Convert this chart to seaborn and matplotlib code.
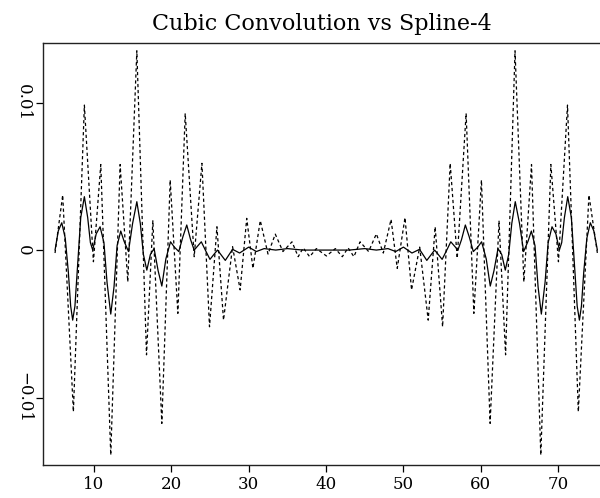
import matplotlib
matplotlib.use("Agg")
import matplotlib.pyplot as plt
import seaborn as sns
import pandas as pd

# ---- data ----
cubic_x = [4.98, 5.97, 7.35, 8.77, 9.94, 10.89, 12.18, 13.39, 14.38, 15.55,
           16.80, 17.62, 18.78, 19.86, 20.85, 21.80, 22.96, 23.96, 24.94, 25.90,
           26.75, 27.92, 28.90, 29.75, 30.55, 31.50, 32.50, 33.44, 34.43, 35.60,
           36.40, 37.05, 37.88, 38.75, 40.05, 41.20, 42.10, 42.85, 43.60, 44.40,
           45.50, 46.50, 47.40, 48.40, 49.20, 50.20, 51.05, 52.10, 53.20, 54.10,
           55.06, 56.04, 56.95, 58.10, 59.10, 60.08, 61.20, 62.35, 63.20, 64.42,
           65.56, 66.55, 67.75, 69.05, 70.03, 71.20, 72.60, 73.97, 75.06]
cubic_y = [-0.0002, 0.00373, -0.01096, 0.00983, -0.00079, 0.0058, -0.0139, 0.0058, -0.00215, 0.01351,
           -0.0071, 0.00199, -0.01175, 0.00475, -0.00429, 0.00927, -0.00045, 0.00588, -0.0052, 0.00158,
           -0.00475, 0.00023, -0.0027, 0.00215, -0.00124, 0.0020, -0.00027, 0.00108, -0.0001, 0.00056,
           -0.00045, 0.00015, -0.00045, 0.0001, -0.0004, 0.0001, -0.00045, 0.00015, -0.00045, 0.00056,
           -0.0001, 0.0011, -0.0002, 0.00208, -0.00124, 0.0022, -0.0027, 0.0002, -0.00475, 0.00158,
           -0.0052, 0.00588, -0.00056, 0.00927, -0.00429, 0.00475, -0.01175, 0.00199, -0.0071, 0.01351,
           -0.00215, 0.0058, -0.0139, 0.0058, -0.00079, 0.00983, -0.01096, 0.00373, -0.0002]

spline_x = [4.98, 5.40, 5.85, 6.30, 6.70, 7.00, 7.26, 7.55, 7.90, 8.30,
            8.77, 9.20, 9.55, 9.85, 10.30, 10.80, 11.30, 11.70, 12.18, 12.60,
            13.00, 13.47, 13.90, 14.47, 15.00, 15.55, 16.00, 16.40, 16.84, 17.30,
            17.78, 18.30, 18.78, 19.30, 19.90, 20.40, 20.97, 21.50, 22.00, 22.50,
            22.96, 23.88, 24.40, 25.00, 25.50, 25.97, 26.98, 27.92, 28.83, 30.00,
            31.00, 32.00, 33.50, 35.00, 37.00, 40.00, 43.00, 45.00, 46.50, 48.00,
            49.00, 50.00, 51.10, 52.08, 53.02, 54.03, 54.50, 55.00, 55.60, 56.12,
            57.04, 57.50, 58.00, 58.50, 59.03, 59.60, 60.10, 60.70, 61.22, 61.70,
            62.22, 62.70, 63.16, 63.60, 64.00, 64.45, 65.00, 65.53, 66.10, 66.53,
            67.00, 67.40, 67.82, 68.30, 68.70, 69.20, 69.70, 70.15, 70.45, 70.80,
            71.23, 71.70, 72.10, 72.45, 72.74, 73.00, 73.30, 73.70, 74.15, 74.60,
            75.06]
spline_y = [0.0, 0.0013, 0.00185, 0.0008, -0.0015, -0.0038, -0.00475, -0.0038, -0.001, 0.0022,
            0.00362, 0.0022, 0.0005, 0.0, 0.0011, 0.00158, 0.0005, -0.0022, -0.00434, -0.0025,
            0.0003, 0.00129, 0.0006, -0.0001, 0.0018, 0.00328, 0.0018, -0.0003, -0.00136, -0.0003,
            0.0001, -0.0014, -0.00244, -0.0006, 0.00056, 0.0002, -0.0001, 0.0009, 0.0017, 0.0007,
            0.0, 0.00056, 0.0, -0.00063, -0.0003, 0.0, -0.0007, 0.00005, -0.0002, 0.0002,
            -0.0001, 0.0001, 0.0, 0.0001, 0.0, 0.0, 0.0, 0.0001, 0.0, 0.0001,
            -0.0001, 0.0002, -0.0002, 0.00005, -0.0007, 0.0, -0.0003, -0.00063, 0.0, 0.00056,
            0.0, 0.0007, 0.0017, 0.0009, -0.0001, 0.0002, 0.00056, -0.0006, -0.00244, -0.0014,
            0.0001, -0.0003, -0.00136, -0.0003, 0.0018, 0.00328, 0.0018, -0.0001, 0.0006, 0.00129,
            0.0003, -0.0025, -0.00434, -0.0022, 0.0005, 0.00158, 0.0011, 0.0, 0.0005, 0.0022,
            0.00362, 0.0022, -0.001, -0.0038, -0.00475, -0.0038, -0.0015, 0.0008, 0.00185, 0.0013,
            0.0]

x_ticks = [10, 20, 30, 40, 50, 60, 70]
y_ticks = [-0.01, 0.0, 0.01]
y_tick_labels = ["\u22120.01", "0", "0.01"]
title = "Cubic Convolution vs Spline-4"

cubic = pd.DataFrame({"x": cubic_x, "y": cubic_y})
spline = pd.DataFrame({"x": spline_x, "y": spline_y})

sns.set_theme(style="white")
plt.rcParams["font.family"] = ["DejaVu Serif"]
plt.rcParams["text.color"] = "black"
plt.rcParams["xtick.color"] = "black"
plt.rcParams["ytick.color"] = "black"

fig = plt.figure(figsize=(6.0, 4.98), dpi=100)
ax = fig.add_axes([0.072, 0.066, 0.928, 0.848])

sns.lineplot(data=cubic, x="x", y="y", ax=ax, sort=False, estimator=None,
             color="black", linewidth=0.9, linestyle=(0, (2.6, 2.2)))
sns.lineplot(data=spline, x="x", y="y", ax=ax, sort=False, estimator=None,
             color="black", linewidth=0.9)

ax.set_xlim(3.45, 75.4)
ax.set_ylim(-0.01458, 0.01405)
ax.set_xticks(x_ticks)
ax.set_xticklabels([str(t) for t in x_ticks], fontsize=12)
ax.set_yticks(y_ticks)
ax.set_yticklabels(y_tick_labels, fontsize=12, rotation=-90, va="center")
ax.set_xlabel("")
ax.set_ylabel("")
ax.tick_params(axis="both", direction="out", length=5, width=0.9, color="black",
               labelcolor="black", bottom=True, left=True, pad=3)
for side in ["left", "bottom", "top"]:
    ax.spines[side].set_color("#222222")
    ax.spines[side].set_linewidth(1.0)
ax.spines["right"].set_visible(False)
ax.set_title(title, fontsize=16, pad=9, color="black")

fig.savefig("out.png", dpi=100)
